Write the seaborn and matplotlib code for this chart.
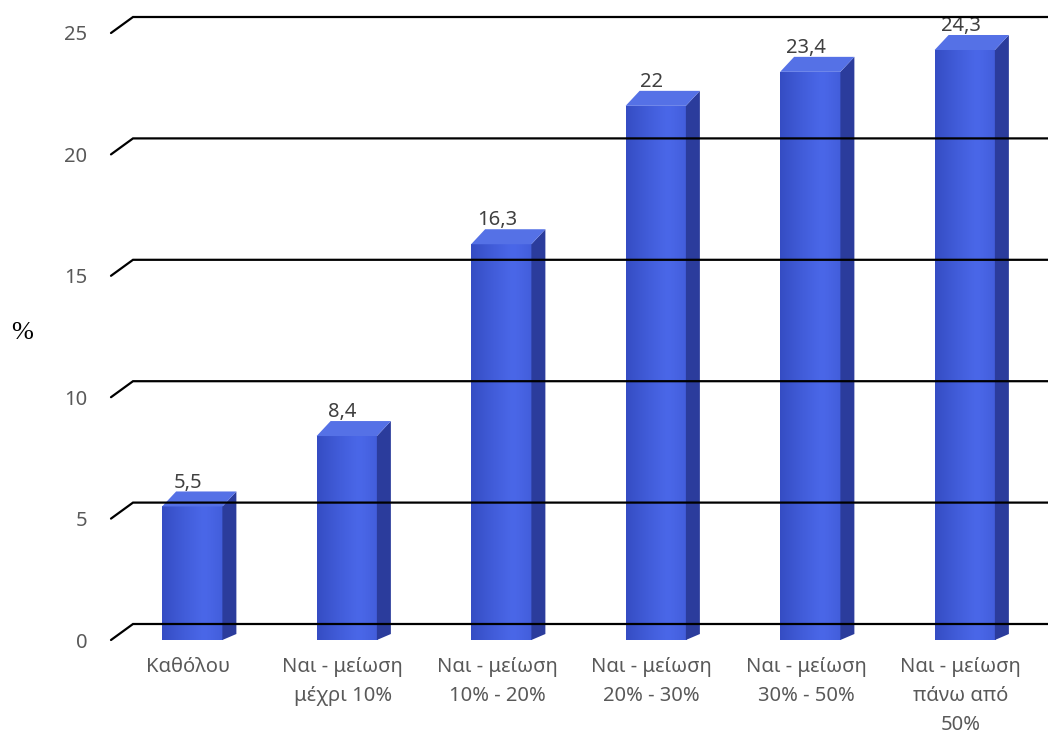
import matplotlib
matplotlib.use("Agg")
import matplotlib.pyplot as plt
import numpy as np
import pandas as pd
import seaborn as sns
from matplotlib.lines import Line2D
from matplotlib.patches import Polygon

categories = [
    "Καθόλου",
    "Ναι - μείωση\nμέχρι 10%",
    "Ναι - μείωση\n10% - 20%",
    "Ναι - μείωση\n20% - 30%",
    "Ναι - μείωση\n30% - 50%",
    "Ναι - μείωση\nπάνω από\n50%",
]
values = [5.5, 8.4, 16.3, 22.0, 23.4, 24.3]
value_labels = ["5,5", "8,4", "16,3", "22", "23,4", "24,3"]
y_ticks = [0, 5, 10, 15, 20, 25]

sns.set_theme(style="white")
plt.rcParams["font.family"] = ["Noto Sans", "DejaVu Sans"]

W, H = 1048, 739
fig = plt.figure(figsize=(W / 100, H / 100), dpi=100)
ax = fig.add_axes([111 / W, 1 - 640 / H, (1038 - 111) / W, (640 - 33) / H])

df = pd.DataFrame({"cat": categories, "val": values})
front_color = "#3F5AD8"
sns.barplot(data=df, x="cat", y="val", color=front_color, saturation=1,
            width=0.39, ax=ax, zorder=3)
ax.set_xlim(-0.5, len(categories) - 0.5)
ax.set_ylim(0, 25)
for s in ax.spines.values():
    s.set_visible(False)
ax.set_xlabel("")
ax.set_ylabel("")
ax.set_yticks(y_ticks)
ax.set_yticklabels([str(t) for t in y_ticks])
ax.tick_params(axis="y", length=0, pad=17, labelsize=14.5, labelcolor="#595959")
ax.tick_params(axis="x", length=0, pad=12, labelsize=14.5, labelcolor="#595959")
for lab in ax.get_xticklabels():
    lab.set_linespacing(1.6)
    lab.set_verticalalignment("top")

# nudge bars a little right, like the depth-shifted 3D bars of the original
shift = 4 / ((1038 - 111) / len(categories))
for patch in ax.patches:
    patch.set_x(patch.get_x() + shift)

fig.canvas.draw()
to_fig = fig.transFigure.inverted()

# perspective gridlines (front tick -> back wall -> across)
gdx, gdy = 22, 16
for t in y_ticks:
    x0, y0 = ax.transData.transform((-0.5, t))
    pts = np.array([[x0, y0], [x0 + gdx, y0 + gdy], [W + 5, y0 + gdy]])
    pts = to_fig.transform(pts)
    fig.add_artist(Line2D(pts[:, 0], pts[:, 1], color="black", lw=1.6,
                          zorder=1, solid_joinstyle="miter"))

# 3D side and top faces for each bar
bdx, bdy = 14, 15
side_color = "#2B3C9C"
top_color = "#5571E6"
for patch, lab in zip(ax.patches, value_labels):
    x, y = patch.get_x(), patch.get_y()
    w, h = patch.get_width(), patch.get_height()
    bl = ax.transData.transform((x + w, y))
    tr = ax.transData.transform((x + w, y + h))
    tl = ax.transData.transform((x, y + h))
    side = np.array([bl, tr, tr + [bdx, bdy], bl + [bdx, bdy]])
    side[3, 1] = bl[1] + 6
    top = np.array([tl, tr, tr + [bdx, bdy], tl + [bdx, bdy]])
    ax.add_patch(Polygon(side, closed=True, transform=None,
                         facecolor=side_color, edgecolor="none", zorder=4))
    ax.add_patch(Polygon(top, closed=True, transform=None,
                         facecolor=top_color, edgecolor="none", zorder=4))
    # soft highlight stripe on the front face
    gx = np.linspace(0, 1, 64)
    shade = 1 - 0.35 * np.abs(gx - 0.7) ** 1.2
    im = ax.imshow(shade[None, :], extent=(x, x + w, y, y + h), aspect="auto",
                   cmap=sns.blend_palette(["#2A3FB0", "#4A67E8"], as_cmap=True),
                   vmin=0.65, vmax=1.0, zorder=3.5)
    im.set_clip_path(patch)
    ax.annotate(lab, (x + w / 2, y + h), xytext=(-3, 10), textcoords="offset points",
                ha="center", va="bottom", fontsize=14.5, color="#404040", zorder=6)

ax.set_xlim(-0.5, len(categories) - 0.5)
ax.set_ylim(0, 25)

fig.text(22 / W, 1 - 333 / H, "%", family="Liberation Serif", fontsize=19,
         color="black", ha="center", va="center")

fig.savefig("out.png", dpi=100)
